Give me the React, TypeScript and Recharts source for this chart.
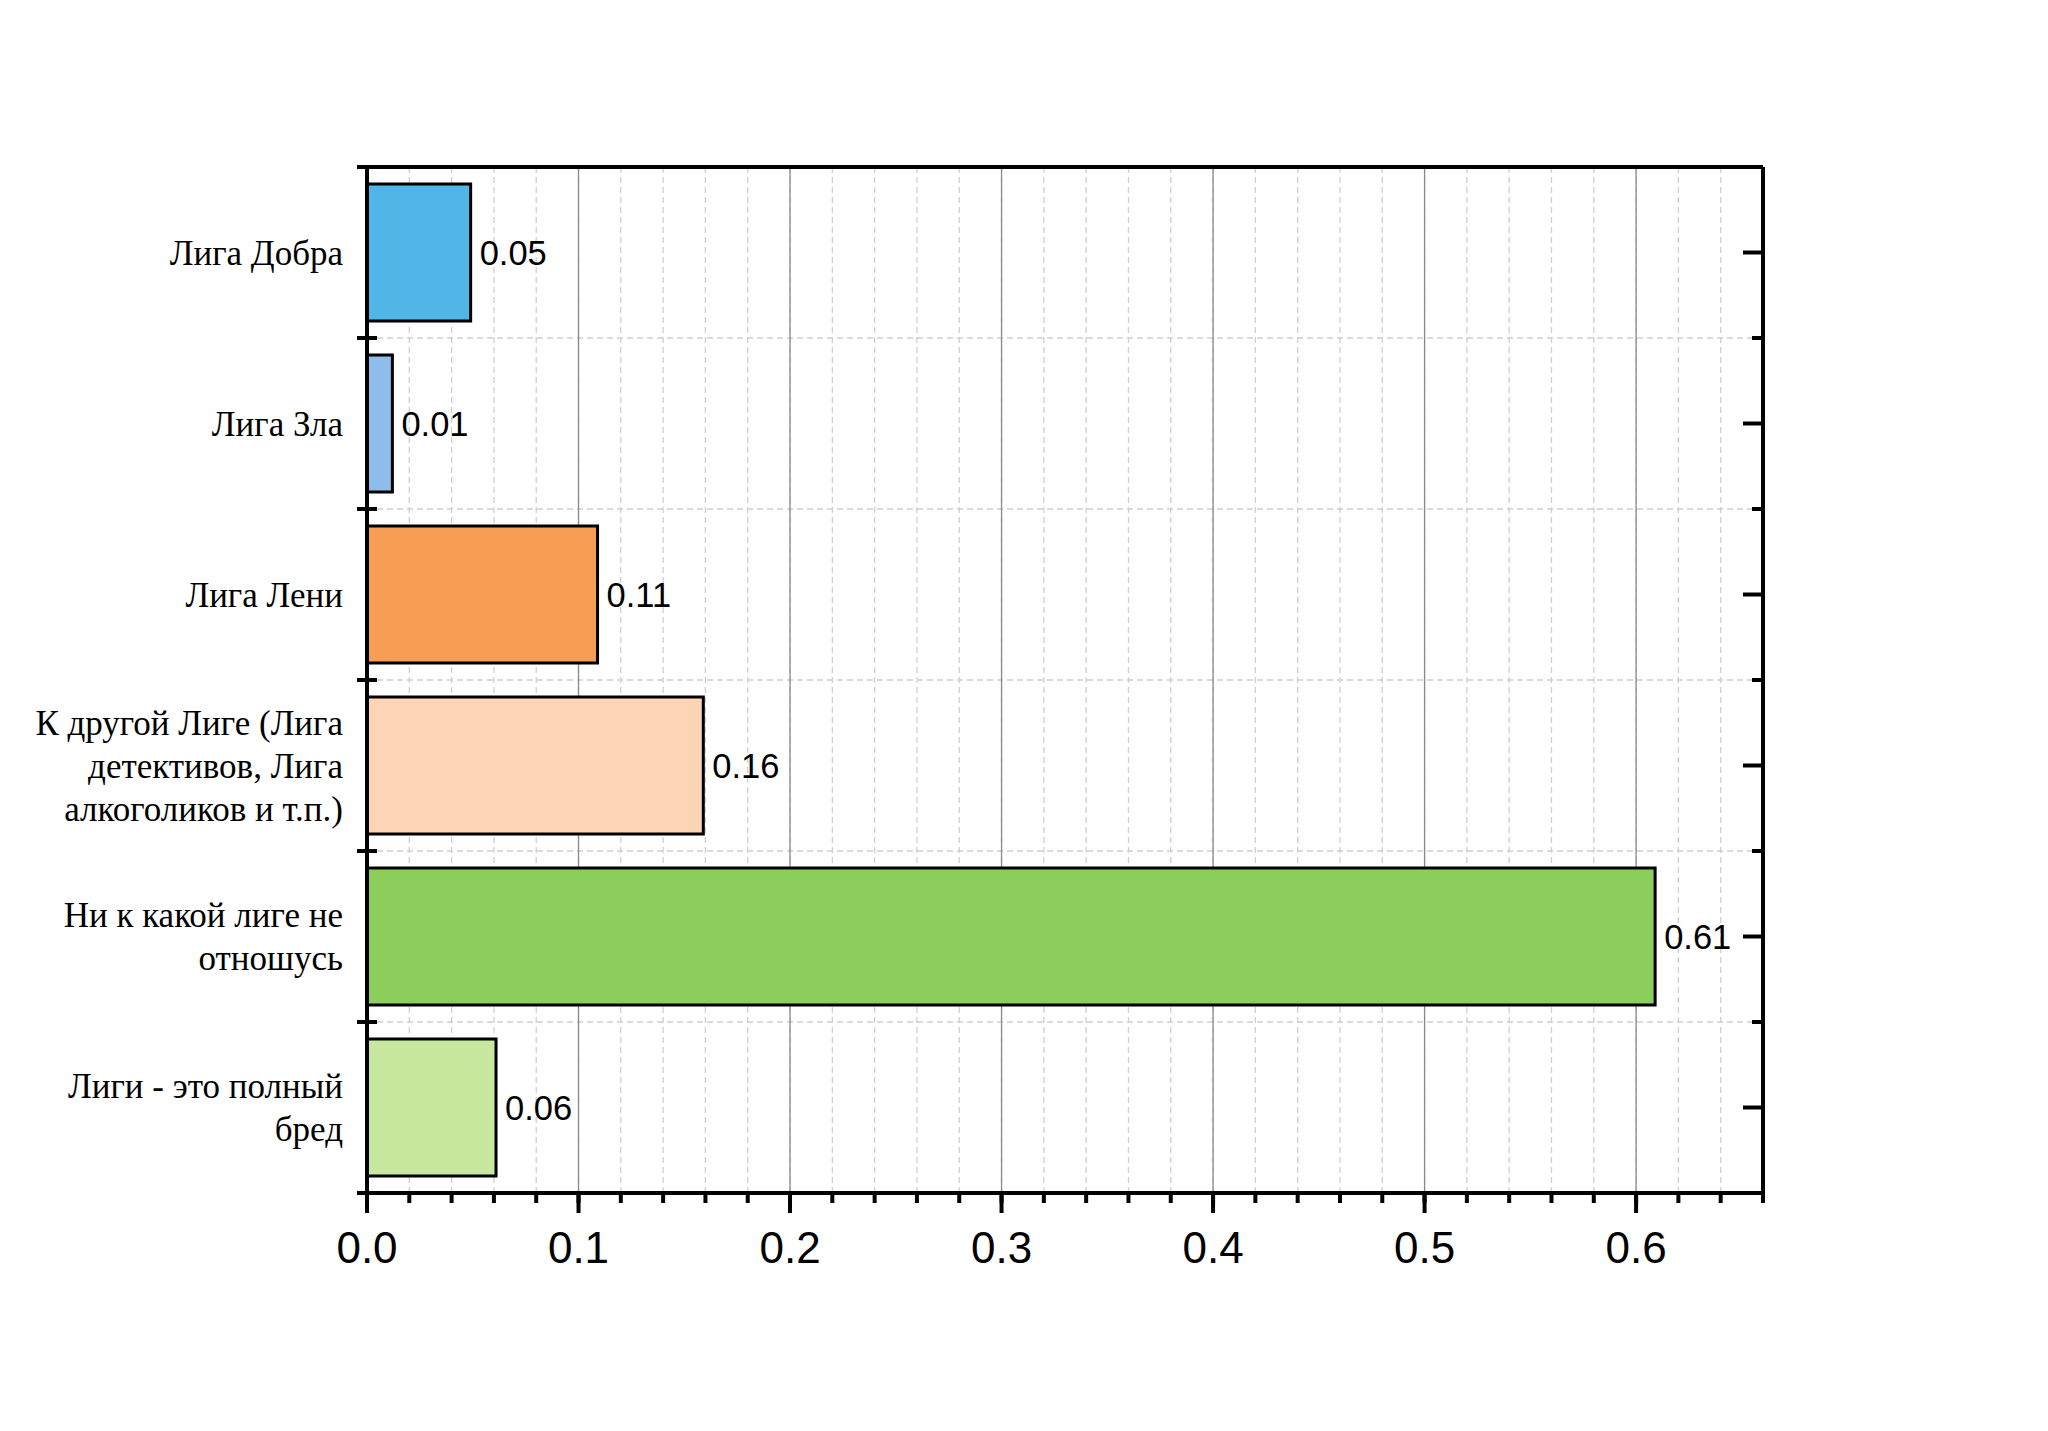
import { BarChart, Bar, XAxis, YAxis, CartesianGrid, Cell, LabelList } from "recharts";

const categories = [
  "Лига Добра",
  "Лига Зла",
  "Лига Лени",
  "К другой Лиге (Лига\nдетективов, Лига\nалкоголиков и т.п.)",
  "Ни к какой лиге не\nотношусь",
  "Лиги - это полный\nбред",
];
const shares = [0.049, 0.012, 0.109, 0.159, 0.609, 0.061];
const barColors = ["#52b5e7", "#8dbde8", "#f79e54", "#fdd5b6", "#8ccf5c", "#c8e79f"];

const xMinorTicks = [
  0, 0.02, 0.04, 0.06, 0.08, 0.1, 0.12, 0.14, 0.16, 0.18, 0.2, 0.22, 0.24, 0.26, 0.28, 0.3, 0.32,
  0.34, 0.36, 0.38, 0.4, 0.42, 0.44, 0.46, 0.48, 0.5, 0.52, 0.54, 0.56, 0.58, 0.6, 0.62, 0.64, 0.66,
];
const xMajorTicks = [0, 0.1, 0.2, 0.3, 0.4, 0.5, 0.6];
const bandEdges = [0, 1, 2, 3, 4, 5, 6];
const xDomain = [0, 0.66];

const data = categories.map((name, i) => ({ name, value: shares[i] }));

const SANS = "'Liberation Sans', Arial, sans-serif";
const SERIF = "'Liberation Serif', 'Times New Roman', serif";

const CategoryTick = ({ x, y, payload }: any) => {
  const lines = String(payload.value).split("\n");
  const lh = 43;
  const y0 = y - ((lines.length - 1) * lh) / 2 + 12;
  return (
    <text x={x} y={y0} textAnchor="end" fontFamily={SERIF} fontSize={35} fill="#000">
      {lines.map((l, i) => (
        <tspan key={i} x={x} y={y0 + i * lh}>
          {l}
        </tspan>
      ))}
    </text>
  );
};

// minor tick line comes from recharts, major ones get a longer line + label
const ValueTick = ({ x, y, payload }: any) => {
  const v = payload.value;
  const isMajor = Math.abs(v * 10 - Math.round(v * 10)) < 1e-6;
  if (!isMajor) return <g />;
  return (
    <g>
      <line x1={x} x2={x} y1={y - 10} y2={y + 10} stroke="#000" strokeWidth={4} />
      <text x={x} y={y + 60} textAnchor="middle" fontFamily={SANS} fontSize={44} fill="#000">
        {v.toFixed(1)}
      </text>
    </g>
  );
};

const CrossTick = ({ x, y }: any) => (
  <line x1={x - 10} x2={x + 10} y1={y} y2={y} stroke="#000" strokeWidth={4} />
);

const Empty = () => <g />;

export default function App() {
  return (
    <div style={{ width: 2032, height: 1415, background: "#fff" }}>
      <BarChart
        width={2032}
        height={1415}
        data={data}
        layout="vertical"
        margin={{ top: 158, right: 277, bottom: 150, left: 19 }}
        barCategoryGap="10%"
      >
        <CartesianGrid xAxisId="x" yAxisId="b" stroke="#cfcfcf" strokeDasharray="6 4" strokeWidth={1.3} />
        <CartesianGrid xAxisId="xm" yAxisId="b" horizontal={false} stroke="#8a8a8a" strokeWidth={1.3} />
        <Bar xAxisId="x" yAxisId="cat" dataKey="value" stroke="#000" strokeWidth={3} isAnimationActive={false}>
          {data.map((d, i) => (
            <Cell key={d.name} fill={barColors[i]} />
          ))}
          <LabelList
            dataKey="value"
            position="right"
            offset={9}
            fontFamily={SANS}
            fontSize={34.5}
            fill="#000"
            formatter={(v: any) => Number(v).toFixed(2)}
          />
        </Bar>
        <XAxis
          xAxisId="x"
          type="number"
          domain={xDomain}
          allowDataOverflow
          ticks={xMinorTicks}
          interval={0}
          height={80}
          tickSize={10}
          tickMargin={0}
          axisLine={{ stroke: "#000", strokeWidth: 4 }}
          tickLine={{ stroke: "#000", strokeWidth: 4 }}
          tick={ValueTick}
        />
        <XAxis xAxisId="xm" type="number" domain={xDomain} allowDataOverflow ticks={xMajorTicks} interval={0} hide />
        <XAxis
          xAxisId="top"
          orientation="top"
          type="number"
          domain={xDomain}
          allowDataOverflow
          height={1}
          tick={Empty}
          tickLine={false}
          axisLine={{ stroke: "#000", strokeWidth: 4 }}
        />
        <YAxis
          yAxisId="cat"
          type="category"
          dataKey="name"
          width={340}
          interval={0}
          tickSize={0}
          tickMargin={24}
          tickLine={false}
          axisLine={{ stroke: "#000", strokeWidth: 4 }}
          tick={CategoryTick}
        />
        <YAxis
          yAxisId="b"
          type="number"
          dataKey="value"
          domain={[0, 6]}
          allowDataOverflow
          ticks={bandEdges}
          interval={0}
          mirror
          width={1}
          tickSize={0}
          tickMargin={0}
          tickLine={false}
          axisLine={false}
          tick={CrossTick}
        />
        <YAxis
          yAxisId="r"
          orientation="right"
          type="category"
          dataKey="name"
          interval={0}
          mirror
          width={1}
          tickSize={20}
          tickLine={{ stroke: "#000", strokeWidth: 4 }}
          axisLine={{ stroke: "#000", strokeWidth: 4 }}
          tick={Empty}
        />
        <YAxis
          yAxisId="rb"
          orientation="right"
          type="number"
          dataKey="value"
          domain={[0, 6]}
          allowDataOverflow
          ticks={bandEdges}
          interval={0}
          mirror
          width={1}
          tickSize={10}
          tickLine={{ stroke: "#000", strokeWidth: 4 }}
          axisLine={false}
          tick={Empty}
        />
      </BarChart>
    </div>
  );
}
